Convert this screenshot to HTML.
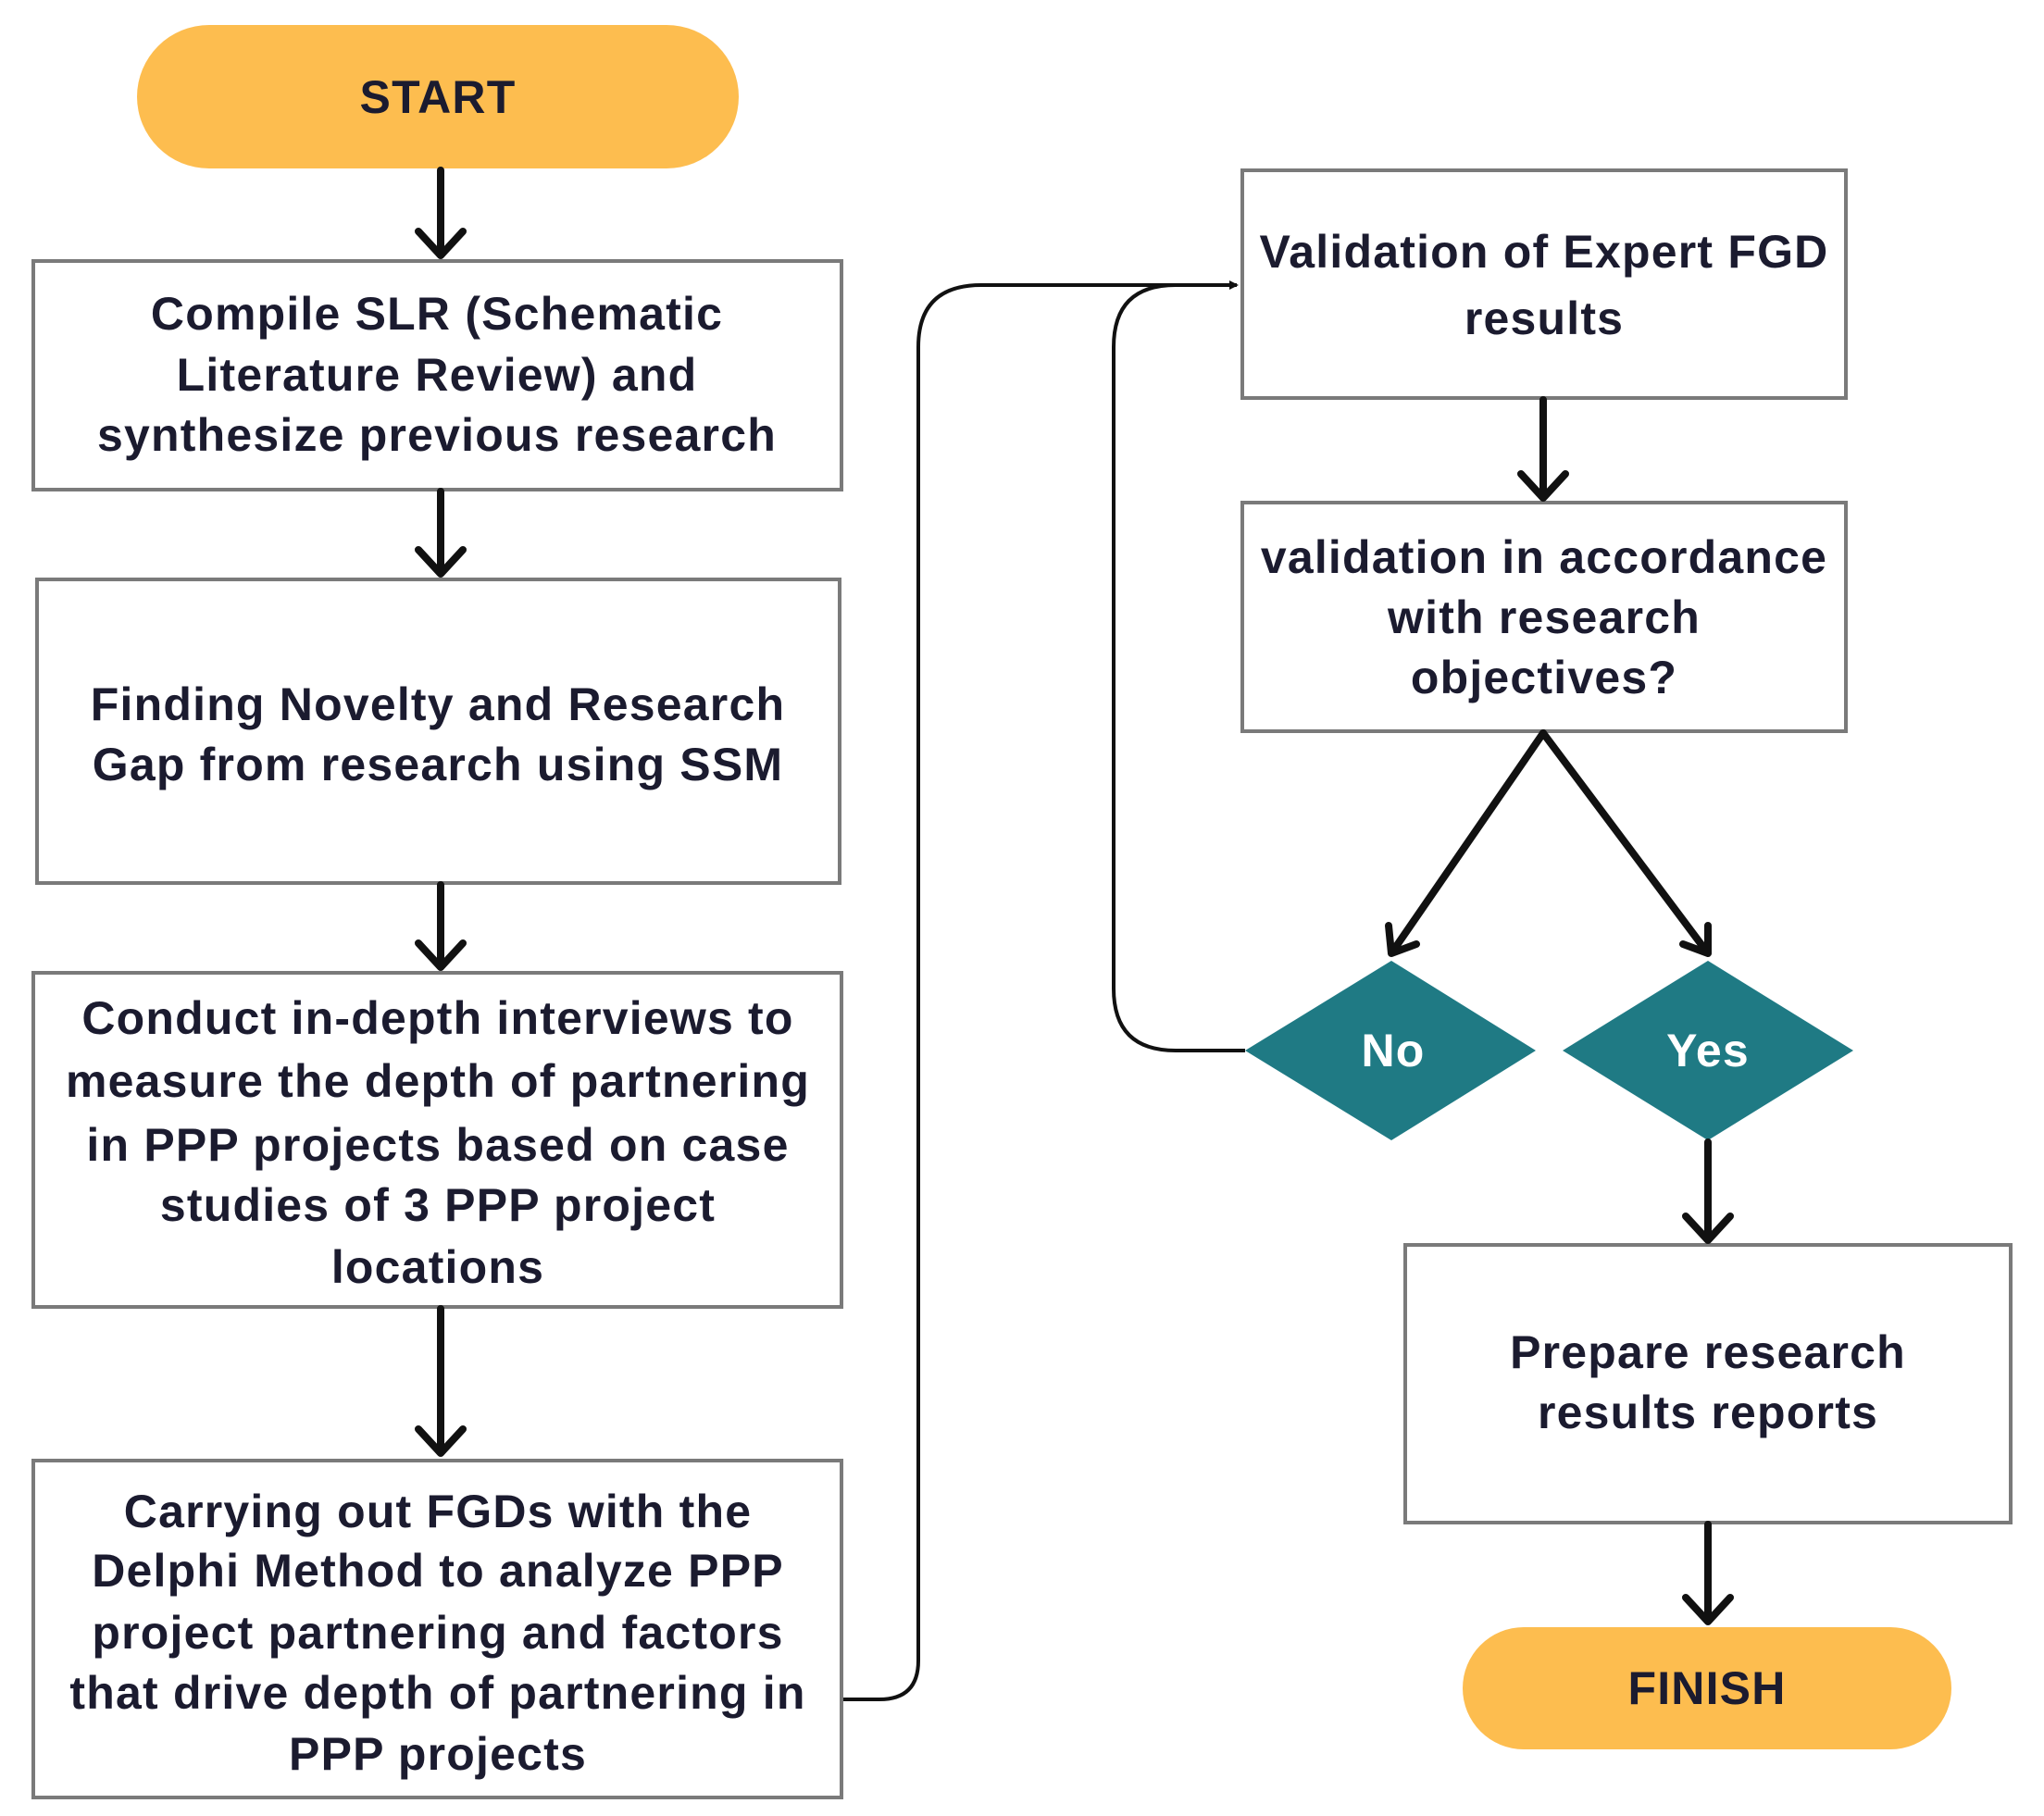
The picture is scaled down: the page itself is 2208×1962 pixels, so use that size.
<!DOCTYPE html>
<html><head><meta charset="utf-8"><style>html,body{margin:0;padding:0;background:#fff}svg{display:block}</style></head>
<body>
<svg width="2208" height="1962" viewBox="0 0 2208 1962" xmlns="http://www.w3.org/2000/svg">
<defs>
<marker id="ah" markerWidth="10" markerHeight="10" refX="8" refY="5" orient="auto" markerUnits="userSpaceOnUse">
<path d="M0,0 L10,5 L0,10 z" fill="#111"/></marker>
</defs>
<g fill="#fff" stroke="#7a7a7a" stroke-width="4">
<rect x="36" y="282" width="873" height="247"/>
<rect x="40" y="626" width="867" height="328"/>
<rect x="36" y="1051" width="873" height="361"/>
<rect x="36" y="1578" width="873" height="364"/>
<rect x="1342" y="184" width="652" height="246"/>
<rect x="1342" y="543" width="652" height="247"/>
<rect x="1518" y="1345" width="654" height="300"/>
</g>
<rect x="148" y="27" width="650" height="155" rx="78" fill="#fdbd4f"/>
<rect x="1580" y="1758" width="528" height="132" rx="66" fill="#fdbd4f"/>
<polygon points="1345,1135 1503,1038 1659,1135 1503,1232" fill="#1f7a84"/>
<polygon points="1688,1135 1845,1038 2002,1135 1845,1232" fill="#1f7a84"/>
<g stroke="#111" stroke-width="8" fill="none" stroke-linecap="round" stroke-linejoin="round">
<path d="M476 184 V276 M452 250 L476 276 L500 250"/>
<path d="M476 531 V620 M452 594 L476 620 L500 594"/>
<path d="M476 956 V1045 M452 1019 L476 1045 L500 1019"/>
<path d="M476 1414 V1570 M452 1544 L476 1570 L500 1544"/>
<path d="M1667 432 V538 M1643 512 L1667 538 L1691 512"/>
<path d="M1667 792 L1503 1030 M1500 1000 L1503 1030 L1530 1020"/>
<path d="M1667 792 L1845 1030 M1818 1020 L1845 1030 L1845 1000"/>
<path d="M1845 1234 V1340 M1821 1314 L1845 1340 L1869 1314"/>
<path d="M1845 1647 V1752 M1821 1726 L1845 1752 L1869 1726"/>
</g>
<g stroke="#111" stroke-width="4" fill="none">
<path d="M911 1836 H950 Q992 1836 992 1794 V375 Q992 308 1060 308 H1336" marker-end="url(#ah)"/>
<path d="M1345 1135 H1270 Q1203 1135 1203 1068 V375 Q1203 308 1270 308"/>
</g>
<g font-family="Liberation Sans, sans-serif" font-weight="bold" font-size="50" letter-spacing="1.2" fill="#1b1b2f" text-anchor="middle">
<text x="473" y="122">START</text>
<text x="1844" y="1841">FINISH</text>
<text x="472" y="356">Compile SLR (Schematic</text>
<text x="472" y="422">Literature Review) and</text>
<text x="472" y="487">synthesize previous research</text>
<text x="473" y="778">Finding Novelty and Research</text>
<text x="473" y="843">Gap from research using SSM</text>
<text x="473" y="1117">Conduct in-depth interviews to</text>
<text x="473" y="1185">measure the depth of partnering</text>
<text x="473" y="1254">in PPP projects based on case</text>
<text x="473" y="1319">studies of 3 PPP project</text>
<text x="473" y="1386">locations</text>
<text x="473" y="1650">Carrying out FGDs with the</text>
<text x="473" y="1714">Delphi Method to analyze PPP</text>
<text x="473" y="1781">project partnering and factors</text>
<text x="473" y="1846">that drive depth of partnering in</text>
<text x="473" y="1912">PPP projects</text>
<text x="1668" y="289">Validation of Expert FGD</text>
<text x="1668" y="361">results</text>
<text x="1668" y="619">validation in accordance</text>
<text x="1668" y="684">with research</text>
<text x="1668" y="749">objectives?</text>
<text x="1845" y="1478">Prepare research</text>
<text x="1845" y="1543">results reports</text>
<text x="1505" y="1152" fill="#fff">No</text>
<text x="1845" y="1152" fill="#fff">Yes</text>
</g>
</svg>
</body></html>
